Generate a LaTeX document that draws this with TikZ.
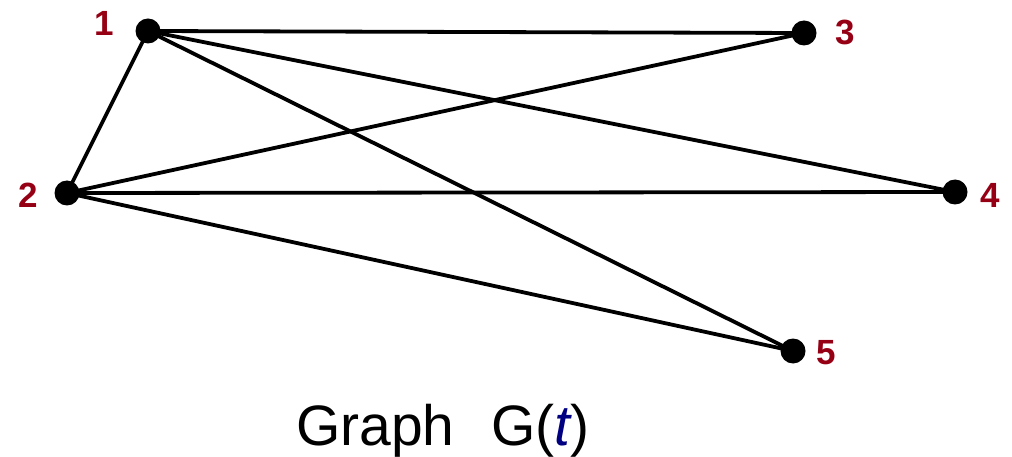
\documentclass[tikz,border=0pt]{standalone}
\usepackage{fontspec}
\setmainfont{Liberation Sans}
\definecolor{lblred}{RGB}{150,0,20}
\definecolor{tblue}{RGB}{0,0,128}
\begin{document}
\begin{tikzpicture}[x=1pt,y=-1pt,
  vtx/.style={circle,fill=black,inner sep=0pt,minimum size=25pt},
  lbl/.style={text=lblred,font=\fontsize{35}{35}\selectfont\bfseries,inner sep=0pt},
  edge/.style={line width=3.8pt,black}]
\useasboundingbox (0,0) rectangle (1012,457);
\node[vtx] (v1) at (148,31) {};
\node[vtx] (v2) at (67,193) {};
\node[vtx] (v3) at (804,33) {};
\node[vtx] (v4) at (955,192) {};
\node[vtx] (v5) at (793,351) {};
\node[lbl] (l1) at (104,23) {1};
\node[lbl] (l2) at (28,195) {2};
\node[lbl] (l3) at (845,32) {3};
\node[lbl] (l4) at (990,195) {4};
\node[lbl] (l5) at (826,353) {5};
\foreach \a/\b in {v1/v3,v1/v4,v1/v5,v1/v2,v2/v3,v2/v4,v2/v5}
  \draw[edge] (\a.center) -- (\b.center);
\node[font=\fontsize{57}{57}\selectfont,inner sep=0pt,anchor=base west] (title) at (296,445) {Graph\hspace{0.65em}G(\textcolor{tblue}{\itshape t})};
\end{tikzpicture}
\end{document}
